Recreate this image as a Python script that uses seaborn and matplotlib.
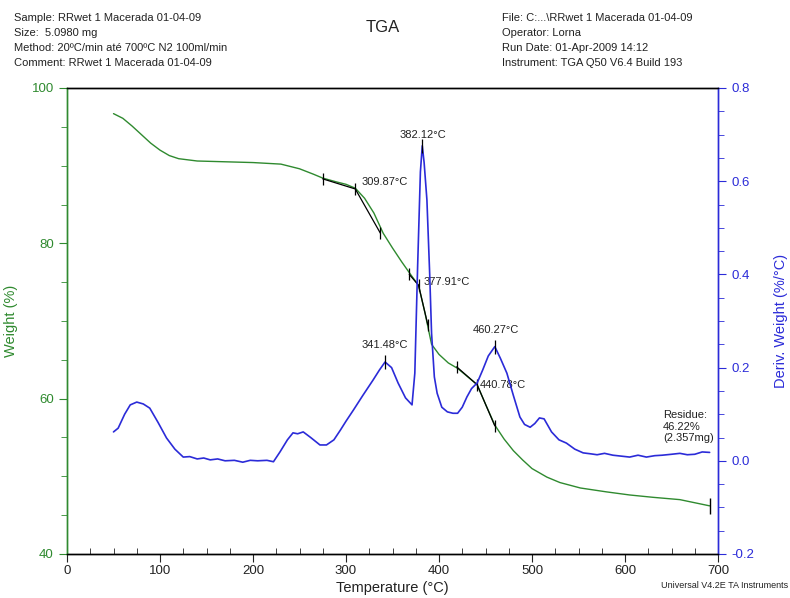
import matplotlib
matplotlib.use("Agg")
import matplotlib.pyplot as plt
import seaborn as sns
import numpy as np
import pandas as pd
from matplotlib.ticker import MultipleLocator

# ---------------- data ----------------
temp_w = [50, 60, 70, 80, 90, 100, 110, 120, 140, 170, 200, 230, 250, 265, 275, 290,
          300, 310, 320, 330, 340, 350, 360, 370, 378, 385, 392, 400, 410, 420, 430,
          441, 450, 460, 470, 480, 490, 500, 516, 530, 552, 580, 605, 630, 659, 691]
weight = [96.7, 96.1, 95.1, 94.0, 92.9, 92.0, 91.3, 90.9, 90.6, 90.5, 90.4, 90.2,
          89.6, 88.9, 88.4, 87.9, 87.6, 87.1, 85.8, 83.9, 81.3, 79.4, 77.6, 75.9,
          74.6, 71.0, 67.0, 65.7, 64.6, 63.9, 62.9, 61.8, 59.3, 56.6, 54.8, 53.3,
          52.1, 51.0, 49.9, 49.2, 48.5, 48.0, 47.6, 47.3, 47.0, 46.2]

temp_d = [50, 55, 62, 68, 75, 82, 89, 98, 107, 116, 125, 132, 140, 147, 154, 162, 170,
          180, 189, 197, 205, 215, 222, 229, 237, 243, 248, 254, 262, 272, 279, 287,
          294, 300, 308, 318, 329, 336, 342, 349, 356, 364, 371, 374, 377, 380, 382,
          384, 387, 390, 392, 395, 398, 403, 409, 415, 420, 425, 430, 435, 441, 447,
          453, 460, 466, 473, 480, 487, 492, 498, 503, 508, 513, 521, 529, 537, 546,
          555, 563, 570, 578, 587, 596, 605, 614, 623, 632, 640, 650, 659, 667, 675,
          683, 691]
deriv = [0.062, 0.070, 0.100, 0.120, 0.126, 0.122, 0.113, 0.082, 0.049, 0.025, 0.008,
         0.009, 0.004, 0.006, 0.002, 0.004, 0.000, 0.001, -0.003, 0.001, 0.000, 0.001,
         -0.002, 0.019, 0.045, 0.060, 0.058, 0.062, 0.050, 0.034, 0.034, 0.045, 0.066,
         0.085, 0.109, 0.140, 0.173, 0.195, 0.212, 0.200, 0.167, 0.135, 0.120, 0.188,
         0.416, 0.620, 0.676, 0.640, 0.560, 0.400, 0.274, 0.180, 0.145, 0.115, 0.105,
         0.102, 0.102, 0.115, 0.137, 0.155, 0.167, 0.195, 0.225, 0.245, 0.220, 0.188,
         0.140, 0.094, 0.078, 0.072, 0.080, 0.092, 0.090, 0.062, 0.045, 0.038, 0.025,
         0.017, 0.015, 0.013, 0.016, 0.012, 0.010, 0.008, 0.012, 0.008, 0.011, 0.012,
         0.014, 0.016, 0.013, 0.014, 0.019, 0.018]

# onset tangent constructions (temperature, weight)
tan1_t = [275, 310, 337]
tan1_w = [88.3, 87.0, 81.3]
tan2_t = [368, 378, 388]
tan2_w = [76.0, 74.6, 69.5]
tan3_t = [419, 441, 460]
tan3_w = [64.1, 61.8, 56.5]
end_t = [691]
end_w = [46.2]

# peak markers (temperature, deriv)
peak_t = [341.48, 382.12, 460.27]
peak_d = [0.212, 0.676, 0.245]

header_left = ["Sample: RRwet 1 Macerada 01-04-09",
               "Size:  5.0980 mg",
               "Method: 20ºC/min até 700ºC N2 100ml/min",
               "Comment: RRwet 1 Macerada 01-04-09"]
header_right = ["File: C:...\\RRwet 1 Macerada 01-04-09",
                "Operator: Lorna",
                "Run Date: 01-Apr-2009 14:12",
                "Instrument: TGA Q50 V6.4 Build 193"]

# ---------------- style ----------------
sns.set_style("ticks")
plt.rcParams['font.family'] = ['Liberation Sans', 'DejaVu Sans']

GREEN = "#2f8a2f"
BLUE = "#2b2bd8"

fig = plt.figure(figsize=(7.9, 5.98), dpi=100)
ax = fig.add_axes([67/790, 1-554/598, (718-67)/790, (554-88)/598])
ax2 = ax.twinx()

df_w = pd.DataFrame({"T": temp_w, "W": weight})
df_d = pd.DataFrame({"T": temp_d, "D": deriv})
sns.lineplot(data=df_w, x="T", y="W", ax=ax, color=GREEN, lw=1.0)
sns.lineplot(data=df_d, x="T", y="D", ax=ax2, color=BLUE, lw=1.2)

# tangents
for tt, ww in [(tan1_t, tan1_w), (tan2_t, tan2_w), (tan3_t, tan3_w)]:
    ax.plot(tt, ww, color="black", lw=0.9)
    ax.plot(tt, ww, ls="none", marker="|", ms=9, mew=0.9, color="black")
ax.plot(end_t, end_w, ls="none", marker="|", ms=11, mew=1.0, color="black")
ax2.plot(peak_t, peak_d, ls="none", marker="|", ms=10, mew=0.9, color="black")

ax.set_xlim(0, 700)
ax.set_ylim(40, 100)
ax2.set_ylim(-0.2, 0.8)

ax.xaxis.set_major_locator(MultipleLocator(100))
ax.xaxis.set_minor_locator(MultipleLocator(25))
ax.yaxis.set_major_locator(MultipleLocator(20))
ax.yaxis.set_minor_locator(MultipleLocator(5))
ax2.yaxis.set_major_locator(MultipleLocator(0.2))
ax2.yaxis.set_minor_locator(MultipleLocator(0.05))
ax2.yaxis.set_major_formatter(matplotlib.ticker.FormatStrFormatter('%.1f'))

ax.tick_params(axis='x', which='major', direction='out', length=6, labelsize=9.5,
               colors='#222222', pad=2)
ax.tick_params(axis='x', which='minor', direction='in', length=4, colors='#222222')
ax.tick_params(axis='y', which='both', colors=GREEN, labelsize=9.5)
ax.tick_params(axis='y', which='major', length=6)
ax.tick_params(axis='y', which='minor', length=4)
ax2.tick_params(axis='y', which='both', colors=BLUE, labelsize=9.5)
ax2.tick_params(axis='y', which='major', length=6)
ax2.tick_params(axis='y', which='minor', length=4)

for a in (ax, ax2):
    a.spines['top'].set_visible(True)
    a.spines['top'].set_color('black')
    a.spines['bottom'].set_color('black')
    a.spines['left'].set_color(GREEN)
    a.spines['right'].set_color(BLUE)
    a.spines['right'].set_visible(True)
    for s in a.spines.values():
        s.set_linewidth(1.0)

ax.set_xlabel("Temperature (°C)", fontsize=10.5, color="#222222", labelpad=3)
ax.set_ylabel("Weight (%)", fontsize=10.5, color=GREEN, labelpad=10)
ax2.set_ylabel("Deriv. Weight (%/°C)", fontsize=10.5, color=BLUE, labelpad=14)

# annotations
fs = 8
ax.text(317, 87.9, "309.87°C", fontsize=fs, ha="left", va="center", color="#222222")
ax2.text(383, 0.699, "382.12°C", fontsize=fs, ha="center", va="center", color="#222222")
ax.text(383, 75.0, "377.91°C", fontsize=fs, ha="left", va="center", color="#222222")
ax2.text(342, 0.248, "341.48°C", fontsize=fs, ha="center", va="center", color="#222222")
ax2.text(461, 0.280, "460.27°C", fontsize=fs, ha="center", va="center", color="#222222")
ax.text(444, 61.8, "440.78°C", fontsize=fs, ha="left", va="center", color="#222222")
ax.text(641, 56.4, "Residue:\n46.22%\n(2.357mg)", fontsize=fs, ha="left", va="center",
        color="#222222", linespacing=1.15)

# header
for i, s in enumerate(header_left):
    fig.text(14/790, 1-(18+15*i)/598, s, fontsize=8, ha="left", va="center", color="#222222")
for i, s in enumerate(header_right):
    fig.text(502/790, 1-(18+15*i)/598, s, fontsize=8, ha="left", va="center", color="#222222")
fig.text(383/790, 1-27/598, "TGA", fontsize=12, ha="center", va="center", color="#222222")
fig.text(788/790, 1-586/598, "Universal V4.2E TA Instruments", fontsize=6.5, ha="right",
         va="center", color="#222222")

fig.savefig("out.png", dpi=100)
